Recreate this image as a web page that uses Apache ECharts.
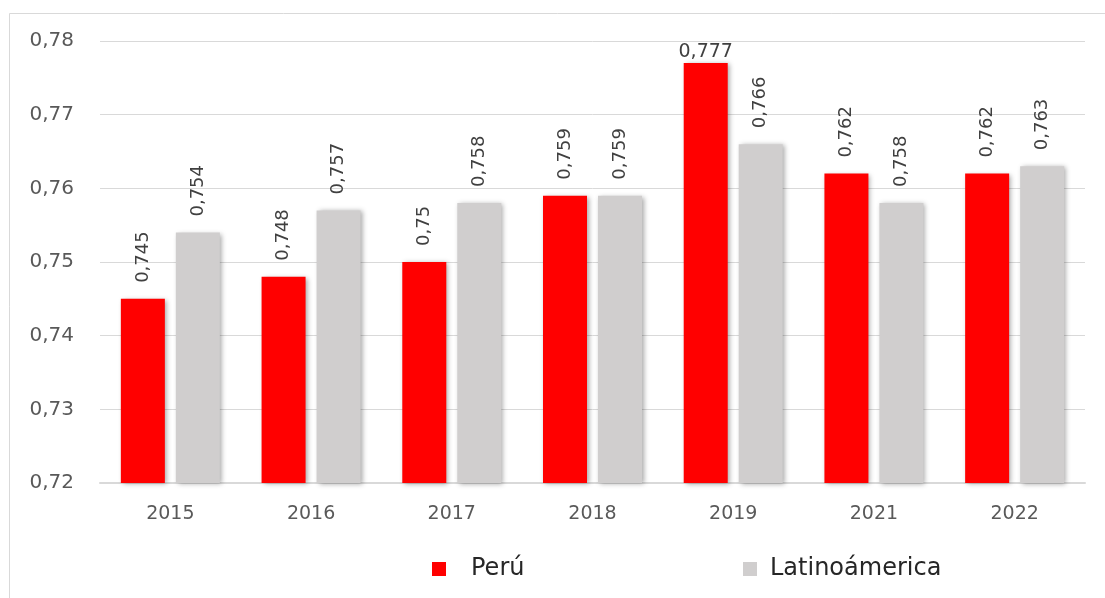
<!DOCTYPE html>
<html>
<head>
<meta charset="utf-8">
<script src="https://cdn.jsdelivr.net/npm/echarts@6/dist/echarts.min.js"></script>
<style>
html,body{margin:0;padding:0;background:#fff;}
#c{width:1105px;height:598px;}
</style>
</head>
<body>
<div id="c"></div>
<script>
var categories = ['2015', '2016', '2017', '2018', '2019', '2021', '2022'];
var peru = [0.745, 0.748, 0.75, 0.759, 0.777, 0.762, 0.762];
var latam = [0.754, 0.757, 0.758, 0.759, 0.766, 0.758, 0.763];
var seriesNames = ['Perú', 'Latinoámerica'];
var yMin = 0.72, yMax = 0.78, yStep = 0.01;

var FONT = 'DejaVu Sans';
function fmt(v) { return String(v).replace('.', ','); }

var baseLabel = {
  show: true,
  position: 'top',
  rotate: 90,
  align: 'left',
  verticalAlign: 'middle',
  distance: 16,
  color: '#404040',
  fontFamily: FONT,
  fontSize: 18,
  formatter: function (p) { return fmt(p.value); }
};

// Peru data: the tallest bar gets a horizontal label, as in the reference
var maxPeru = Math.max.apply(null, peru);
var peruData = peru.map(function (v) {
  if (v === maxPeru) {
    return { value: v, label: { rotate: 0, align: 'center', verticalAlign: 'bottom', distance: 2, fontSize: 19 } };
  }
  return v;
});

var shadow = { shadowColor: 'rgba(0,0,0,0.35)', shadowBlur: 5, shadowOffsetX: 2, shadowOffsetY: 1 };

var chart = echarts.init(document.getElementById('c'));
chart.setOption({
  animation: false,
  backgroundColor: '#fff',
  textStyle: { fontFamily: FONT },
  graphic: [{
    type: 'rect',
    shape: { x: 9.5, y: 13.5, width: 3000, height: 3000 },
    style: { fill: 'none', stroke: '#d9d9d9', lineWidth: 1 },
    silent: true
  }],
  legend: [{
    data: [seriesNames[0]],
    left: 427, top: 551,
    icon: 'rect', itemWidth: 14, itemHeight: 14,
    textStyle: { fontFamily: FONT, fontSize: 24, color: '#262626', lineHeight: 26, padding: [0, 0, 0, 20] }
  }, {
    data: [seriesNames[1]],
    left: 738, top: 551,
    icon: 'rect', itemWidth: 14, itemHeight: 14,
    textStyle: { fontFamily: FONT, fontSize: 24, color: '#262626', lineHeight: 26, padding: [0, 0, 0, 8] }
  }],
  grid: { left: 100, right: 20, top: 41, bottom: 115, containLabel: false },
  xAxis: {
    type: 'category',
    data: categories,
    axisLine: { show: true, lineStyle: { color: '#d9d9d9', width: 2 } },
    axisTick: { show: false },
    axisLabel: { color: '#595959', fontFamily: FONT, fontSize: 19, margin: 22 }
  },
  yAxis: {
    type: 'value',
    min: yMin, max: yMax, interval: yStep,
    axisLine: { show: false },
    axisTick: { show: false },
    splitLine: { lineStyle: { color: '#d9d9d9', width: 1 } },
    axisLabel: {
      color: '#595959', fontFamily: FONT, fontSize: 20, margin: 26,
      formatter: function (v) { return v.toFixed(2).replace('.', ','); }
    }
  },
  series: [{
    name: seriesNames[0],
    type: 'bar',
    data: peruData,
    barWidth: 44,
    barGap: '25%',
    itemStyle: Object.assign({ color: '#ff0000' }, shadow),
    label: baseLabel
  }, {
    name: seriesNames[1],
    type: 'bar',
    data: latam,
    barWidth: 44,
    barGap: '25%',
    itemStyle: Object.assign({ color: '#d0cece' }, shadow),
    label: baseLabel
  }]
});
</script>
</body>
</html>
